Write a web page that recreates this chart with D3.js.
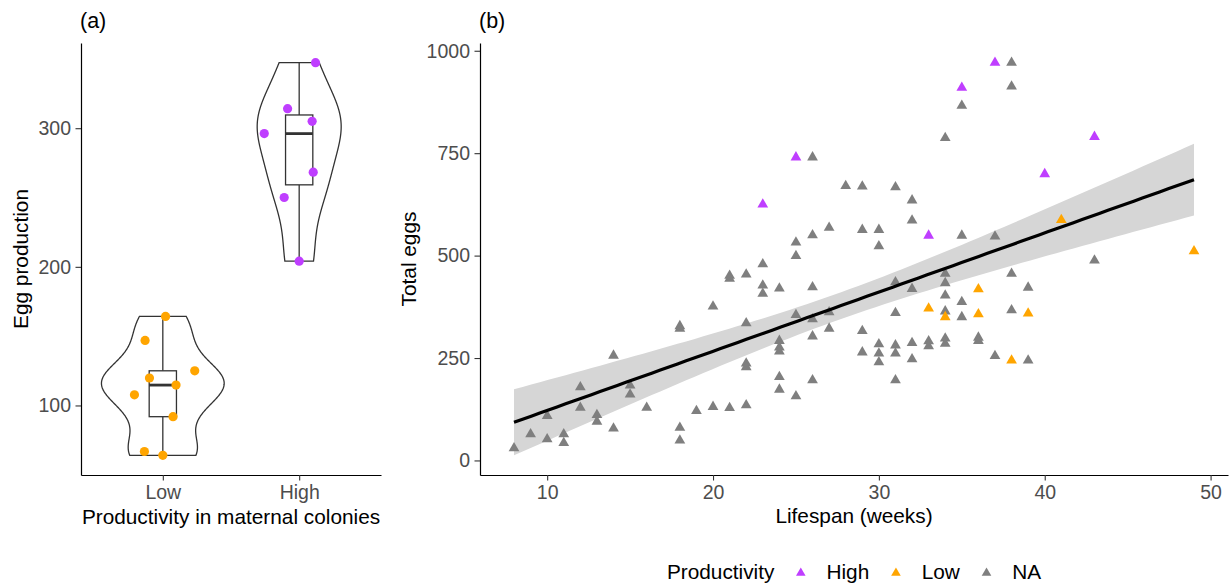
<!DOCTYPE html>
<html><head><meta charset="utf-8">
<script src="https://cdn.jsdelivr.net/npm/d3@7"></script>
<style>
body{margin:0;background:#fff}
svg{display:block;font-family:"Liberation Sans",Arial,Helvetica,sans-serif}
</style></head><body>
<svg id="chart" width="1232" height="584"></svg>
<script>
// ---- Panel (a): egg production by productivity of the maternal colony ----
const groups = ["Low", "High"];
const lowEggs = [164.2, 146.9, 125.0, 119.8, 114.7, 107.7, 91.9, 66.8, 64.0];
const lowJitter = [0.02, -0.13, 0.234, -0.098, 0.097, -0.208, 0.075, -0.135, 0.0];
const highEggs = [347.3, 314.1, 305.0, 296.1, 268.3, 250.0, 204.1];
const highJitter = [0.12, -0.085, 0.095, -0.256, 0.103, -0.11, 0.0];
const eggTicks = [100, 200, 300];

// ---- Panel (b): lifespan against total eggs laid ----
const weeksHigh = [23, 25, 33, 35, 37, 40, 43];
const eggsHigh  = [625, 740, 549, 910, 971, 699, 790];
const weeksLow  = [33, 34, 36, 36, 38, 39, 41, 49];
const eggsLow   = [371, 350, 418, 357, 244, 359, 587, 511];
const weeksNA = [8, 9, 10, 10, 11, 11, 12, 12, 13, 13, 14, 14, 15, 15, 16, 18, 18, 18, 18, 19,
  20, 20, 21, 21, 21, 22, 22, 22, 22, 22, 23, 23, 23, 24, 24, 24, 24, 24, 24, 25, 25, 25, 25,
  26, 26, 26, 26, 26, 26, 27, 27, 27, 28, 29, 29, 29, 29, 30, 30, 30, 30, 30,
  31, 31, 31, 31, 31, 31, 32, 32, 32, 32, 32, 33, 33, 34, 34, 34, 34, 34, 34, 34,
  35, 35, 35, 35, 36, 36, 37, 37, 38, 38, 38, 38, 39, 39, 43];
const eggsNA = [30, 64, 52, 109, 64, 43, 179, 129, 111, 95, 256, 78, 183, 161, 129, 328, 322, 80, 49, 121,
  376, 131, 451, 444, 128, 454, 335, 237, 228, 135, 479, 427, 407, 420, 292, 276, 266, 204, 173, 532, 499, 355, 157,
  740, 550, 423, 345, 303, 196, 568, 362, 322, 670, 669, 563, 316, 264, 563, 523, 284, 261, 240,
  667, 435, 360, 281, 261, 196, 635, 586, 419, 287, 247, 291, 279, 787, 456, 433, 403, 364, 298, 285,
  866, 549, 387, 350, 300, 292, 547, 255, 971, 913, 456, 367, 422, 244, 488];
const weekTicks = [10, 20, 30, 40, 50];
const totalTicks = [0, 250, 500, 750, 1000];
const legendLevels = ["High", "Low", "NA"];

const colours = {High: "#BF3EFF", Low: "#FFA500", NA: "#7F7F7F"};
const tickFont = 19.5, titleFont = 20.8;

const svg = d3.select("#chart");
const plotTop = 43, plotBottom = 475;

function expand(ext, f = 0.05) {
  const r = ext[1] - ext[0];
  return [ext[0] - r * f, ext[1] + r * f];
}

function styleAxis(g) {
  g.select(".domain").attr("stroke", "#000").attr("stroke-width", 1.2);
  g.selectAll(".tick line").attr("stroke", "#333").attr("stroke-width", 1.1);
  g.selectAll(".tick text").attr("fill", "#4D4D4D").attr("font-size", tickFont)
    .attr("font-family", "Liberation Sans, Arial, sans-serif");
}

// ================= Panel (a) =================
const aLeft = 81, aRight = 381;
const xa = d3.scalePoint().domain(groups).range([aLeft, aRight]).padding(0.6);
const ya = d3.scaleLinear().domain(expand(d3.extent(lowEggs.concat(highEggs)))).range([plotBottom, plotTop]);
const step = xa.step();

function bwNrd0(v) {
  const s = d3.deviation(v);
  const sorted = v.slice().sort(d3.ascending);
  const iqr = d3.quantileSorted(sorted, 0.75) - d3.quantileSorted(sorted, 0.25);
  return 0.9 * Math.min(s, iqr / 1.34) * Math.pow(v.length, -0.2);
}
function kde(v, n = 512) {
  const bw = bwNrd0(v);
  const [a, b] = d3.extent(v);
  return d3.range(n).map(i => {
    const y = a + (b - a) * i / (n - 1);
    const d = d3.mean(v, x => Math.exp(-0.5 * ((y - x) / bw) ** 2)) / (bw * Math.sqrt(2 * Math.PI));
    return {y, d};
  });
}

const seriesA = [
  {key: "Low", values: lowEggs, jitter: lowJitter},
  {key: "High", values: highEggs, jitter: highJitter}
];
seriesA.forEach(s => { s.dens = kde(s.values); });
const maxDens = d3.max(seriesA, s => d3.max(s.dens, p => p.d));

const gA = svg.append("g");

seriesA.forEach(s => {
  const cx = xa(s.key);
  const halfW = p => 0.45 * step * p.d / maxDens;
  const pts = s.dens.map(p => [cx - halfW(p), ya(p.y)])
    .concat(s.dens.slice().reverse().map(p => [cx + halfW(p), ya(p.y)]));
  gA.append("path")
    .attr("d", d3.line()(pts) + "Z")
    .attr("fill", "#fff").attr("stroke", "#333").attr("stroke-width", 1.3);

  const sorted = s.values.slice().sort(d3.ascending);
  const q1 = d3.quantileSorted(sorted, 0.25), med = d3.quantileSorted(sorted, 0.5), q3 = d3.quantileSorted(sorted, 0.75);
  const bw = 0.1 * step;
  gA.append("line").attr("x1", cx).attr("x2", cx).attr("y1", ya(sorted[0])).attr("y2", ya(q1))
    .attr("stroke", "#333").attr("stroke-width", 1.3);
  gA.append("line").attr("x1", cx).attr("x2", cx).attr("y1", ya(q3)).attr("y2", ya(sorted[sorted.length - 1]))
    .attr("stroke", "#333").attr("stroke-width", 1.3);
  gA.append("rect").attr("x", cx - bw).attr("width", 2 * bw)
    .attr("y", ya(q3)).attr("height", ya(q1) - ya(q3))
    .attr("fill", "#fff").attr("stroke", "#333").attr("stroke-width", 1.3);
  gA.append("line").attr("x1", cx - bw).attr("x2", cx + bw).attr("y1", ya(med)).attr("y2", ya(med))
    .attr("stroke", "#333").attr("stroke-width", 2.8);
});

seriesA.forEach(s => {
  gA.selectAll(null).data(s.values.map((v, i) => ({v, j: s.jitter[i]})))
    .join("circle")
    .attr("cx", d => xa(s.key) + d.j * step)
    .attr("cy", d => ya(d.v))
    .attr("r", 4.6)
    .attr("fill", colours[s.key]);
});

gA.append("g").attr("transform", `translate(${aLeft},0)`)
  .call(d3.axisLeft(ya).tickValues(eggTicks).tickFormat(d3.format("d")).tickSize(5.5).tickPadding(4.5).tickSizeOuter(0))
  .call(styleAxis);
gA.append("g").attr("transform", `translate(0,${plotBottom})`)
  .call(d3.axisBottom(xa).tickSize(5.5).tickPadding(4.5).tickSizeOuter(0))
  .call(styleAxis);

gA.append("text").attr("x", (aLeft + aRight) / 2).attr("y", 524)
  .attr("text-anchor", "middle").attr("font-size", titleFont).attr("fill", "#000")
  .text("Productivity in maternal colonies");
gA.append("text").attr("transform", `translate(27.5,${(plotTop + plotBottom) / 2}) rotate(-90)`)
  .attr("text-anchor", "middle").attr("font-size", titleFont).attr("fill", "#000")
  .text("Egg production");
gA.append("text").attr("x", 80).attr("y", 28).attr("font-size", 21.5).attr("fill", "#000").text("(a)");

// ================= Panel (b) =================
const bLeft = 480, bRight = 1228;
const allWeeks = weeksHigh.concat(weeksLow, weeksNA);
const allEggs = eggsHigh.concat(eggsLow, eggsNA);

// ordinary least squares fit with a 95% confidence band
const n = allWeeks.length;
const mx = d3.mean(allWeeks), my = d3.mean(allEggs);
const sxx = d3.sum(allWeeks, x => (x - mx) ** 2);
const sxy = d3.sum(allWeeks.map((x, i) => (x - mx) * (allEggs[i] - my)));
const slope = sxy / sxx, intercept = my - slope * mx;
const rss = d3.sum(allWeeks.map((x, i) => (allEggs[i] - intercept - slope * x) ** 2));
const sigma = Math.sqrt(rss / (n - 2));
const tCrit = 1.982;
const [wMin, wMax] = d3.extent(allWeeks);
const fit = d3.range(80).map(i => {
  const x = wMin + (wMax - wMin) * i / 79;
  const yhat = intercept + slope * x;
  const se = sigma * Math.sqrt(1 / n + (x - mx) ** 2 / sxx);
  return {x, y: yhat, lo: yhat - tCrit * se, hi: yhat + tCrit * se};
});

const xb = d3.scaleLinear().domain(expand([wMin, wMax])).range([bLeft, bRight]);
const yExt = [Math.min(d3.min(allEggs), d3.min(fit, d => d.lo)), Math.max(d3.max(allEggs), d3.max(fit, d => d.hi))];
const yb = d3.scaleLinear().domain(expand(yExt)).range([plotBottom, plotTop]);

const gB = svg.append("g");
gB.append("path").datum(fit)
  .attr("d", d3.area().x(d => xb(d.x)).y0(d => yb(d.lo)).y1(d => yb(d.hi)))
  .attr("fill", "#D6D6D6");

const tri = d3.symbol().type(d3.symbolTriangle).size(50);
const pointSets = [
  {key: "NA", w: weeksNA, e: eggsNA},
  {key: "Low", w: weeksLow, e: eggsLow},
  {key: "High", w: weeksHigh, e: eggsHigh}
];
pointSets.forEach(s => {
  gB.selectAll(null).data(s.w.map((w, i) => [w, s.e[i]]))
    .join("path")
    .attr("d", tri)
    .attr("transform", d => `translate(${xb(d[0])},${yb(d[1])})`)
    .attr("fill", colours[s.key]);
});

gB.append("path").datum(fit)
  .attr("d", d3.line().x(d => xb(d.x)).y(d => yb(d.y)))
  .attr("fill", "none").attr("stroke", "#000").attr("stroke-width", 3.2);

gB.append("g").attr("transform", `translate(${bLeft},0)`)
  .call(d3.axisLeft(yb).tickValues(totalTicks).tickFormat(d3.format("d")).tickSize(5.5).tickPadding(4.5).tickSizeOuter(0))
  .call(styleAxis);
gB.append("g").attr("transform", `translate(0,${plotBottom})`)
  .call(d3.axisBottom(xb).tickValues(weekTicks).tickFormat(d3.format("d")).tickSize(5.5).tickPadding(4.5).tickSizeOuter(0))
  .call(styleAxis);

gB.append("text").attr("x", (bLeft + bRight) / 2).attr("y", 523)
  .attr("text-anchor", "middle").attr("font-size", titleFont).attr("fill", "#000")
  .text("Lifespan (weeks)");
gB.append("text").attr("transform", `translate(416,${(plotTop + plotBottom) / 2}) rotate(-90)`)
  .attr("text-anchor", "middle").attr("font-size", titleFont).attr("fill", "#000")
  .text("Total eggs");
gB.append("text").attr("x", 479).attr("y", 28).attr("font-size", 21.5).attr("fill", "#000").text("(b)");

// ================= Legend =================
const lg = svg.append("g");
const legY = 579;
const title = lg.append("text").attr("y", legY).attr("font-size", titleFont).attr("fill", "#000").text("Productivity");
let cursor = title.node().getComputedTextLength() + 26.4;
const keyTri = d3.symbol().type(d3.symbolTriangle).size(40);
legendLevels.forEach((lvl, i) => {
  lg.append("path").attr("d", keyTri).attr("fill", colours[lvl])
    .attr("transform", `translate(${cursor},${legY - 6})`);
  cursor += 25.7;
  const t = lg.append("text").attr("x", cursor).attr("y", legY).attr("font-size", titleFont)
    .attr("fill", "#000").text(lvl);
  cursor += t.node().getComputedTextLength();
  if (i < legendLevels.length - 1) cursor += 26.7;
});
lg.attr("transform", `translate(${(bLeft + bRight) / 2 - cursor / 2},0)`);
</script>
</body></html>
